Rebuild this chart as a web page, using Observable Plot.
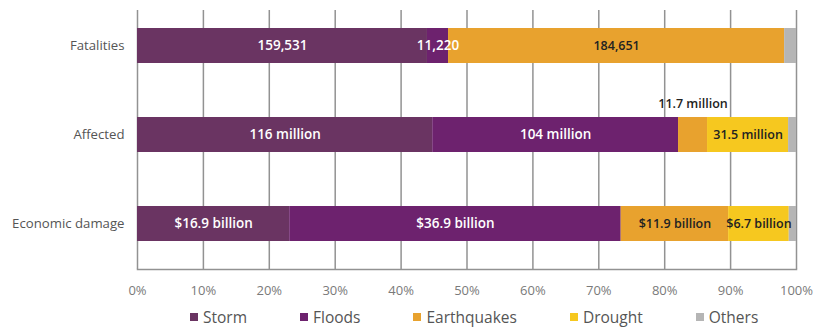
<!DOCTYPE html>
<html><head><meta charset="utf-8">
<script src="https://cdn.jsdelivr.net/npm/d3@7"></script>
<script src="https://cdn.jsdelivr.net/npm/@observablehq/plot@0.6"></script>
<style>
body{margin:0;background:#fff;font-family:"Open Sans",sans-serif;}
#legend{display:flex;gap:53px;padding-left:190px;height:24px;align-items:center;font-size:15.5px;color:#555;}
#legend .item{display:flex;align-items:center;gap:5px;}
#legend .sw{width:8px;height:8px;display:inline-block;}
</style></head><body><div id="chart"></div><div id="legend"></div>
<script>
const categories = ["Fatalities", "Affected", "Economic damage"];
const types = ["Storm", "Floods", "Earthquakes", "Drought", "Others"];
const colors = ["#6a3462", "#6d226e", "#e8a22e", "#f6c81f", "#b5b5b5"];
const storm = [44.0, 44.8, 23.1];
const floods = [3.2, 37.3, 50.3];
const earthquakes = [51.0, 4.4, 16.3];
const drought = [0, 12.3, 9.2];
const others = [1.8, 1.2, 1.1];
const stormLabels = ["159,531", "116 million", "$16.9 billion"];
const floodLabels = ["11,220", "104 million", "$36.9 billion"];
const quakeLabels = ["184,651", "11.7 million", "$11.9 billion"];
const droughtLabels = ["", "31.5 million", "$6.7 billion"];
const othersLabels = ["", "", ""];
const xTicks = [0, 10, 20, 30, 40, 50, 60, 70, 80, 90, 100];

const series = [storm, floods, earthquakes, drought, others];
const labels = [stormLabels, floodLabels, quakeLabels, droughtLabels, othersLabels];
const rows = [];
types.forEach((t, i) => categories.forEach((c, j) => rows.push({category: c, type: t, share: series[i][j], label: labels[i][j]})));
const darkTypes = new Set(["Earthquakes", "Drought"]);
const isAbove = d => d.type === "Earthquakes" && d.category === "Affected";

const stack = (o) => Plot.stackX({x: "share", y: "category", z: "type", order: types, ...o});

const chart = Plot.plot({
  width: 821, height: 305,
  marginLeft: 137, marginRight: 25, marginTop: 10, marginBottom: 36,
  style: {fontFamily: "Open Sans, sans-serif", background: "white"},
  x: {domain: [0, 100]},
  y: {domain: categories, paddingInner: 0.611, paddingOuter: 0.2445, align: 0.386},
  color: {domain: types, range: colors},
  marks: [
    Plot.ruleX(xTicks, {stroke: "#929292", strokeWidth: 1.5}),
    Plot.frame({anchor: "bottom", stroke: "#929292", strokeWidth: 1.5}),
    Plot.axisX({ticks: xTicks, tickFormat: d => d + "%", tickSize: 0, tickPadding: 16, fontSize: 13, fill: "#7a7a7a", label: null}),
    Plot.axisY({tickSize: 0, tickPadding: 13, fontSize: 13.2, fill: "#555", label: null}),
    Plot.barX(rows, stack({fill: "type"})),
    Plot.text(rows, stack({text: d => darkTypes.has(d.type) ? "" : d.label, fill: "white", fontSize: 13.5, fontWeight: 600})),
    Plot.text(rows, stack({text: d => darkTypes.has(d.type) && !isAbove(d) ? d.label : "", fill: "#222", fontSize: 12.5, fontWeight: 600, letterSpacing: "-0.3px"})),
    Plot.text(rows, stack({text: d => isAbove(d) ? d.label : "", fill: "#222", fontSize: 12.5, fontWeight: 600, letterSpacing: "-0.3px", dy: -31}))
  ]
});
document.getElementById("chart").appendChild(chart);

const legend = document.getElementById("legend");
types.forEach((t, i) => {
  const item = document.createElement("span");
  item.className = "item";
  item.innerHTML = `<span class="sw" style="background:${colors[i]}"></span><span>${t}</span>`;
  legend.appendChild(item);
});
</script></body></html>
